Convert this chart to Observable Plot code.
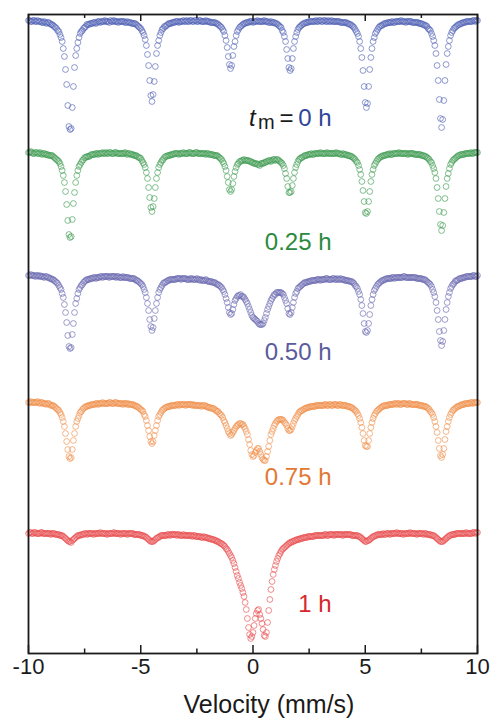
<!DOCTYPE html>
<html><head><meta charset="utf-8">
<script src="https://cdn.jsdelivr.net/npm/d3@7"></script>
<script src="https://cdn.jsdelivr.net/npm/@observablehq/plot@0.6"></script>
<style>
html,body{margin:0;padding:0;background:#fff;}
#chart{width:493px;height:728px;}
</style></head><body><div id="chart"></div>
<script>
// Velocity channels (mm/s)
const velocity = [
-10,-9.95,-9.9,-9.85,-9.8,-9.75,-9.7,-9.65,-9.6,-9.55,-9.5,-9.45,-9.4,-9.35,-9.3,-9.25,-9.2,-9.15,-9.1,-9.05,
-9,-8.95,-8.9,-8.85,-8.8,-8.75,-8.7,-8.65,-8.6,-8.55,-8.5,-8.45,-8.4,-8.35,-8.3,-8.25,-8.2,-8.15,-8.1,-8.05,
-8,-7.95,-7.9,-7.85,-7.8,-7.75,-7.7,-7.65,-7.6,-7.55,-7.5,-7.45,-7.4,-7.35,-7.3,-7.25,-7.2,-7.15,-7.1,-7.05,
-7,-6.95,-6.9,-6.85,-6.8,-6.75,-6.7,-6.65,-6.6,-6.55,-6.5,-6.45,-6.4,-6.35,-6.3,-6.25,-6.2,-6.15,-6.1,-6.05,
-6,-5.95,-5.9,-5.85,-5.8,-5.75,-5.7,-5.65,-5.6,-5.55,-5.5,-5.45,-5.4,-5.35,-5.3,-5.25,-5.2,-5.15,-5.1,-5.05,
-5,-4.95,-4.9,-4.85,-4.8,-4.75,-4.7,-4.65,-4.6,-4.55,-4.5,-4.45,-4.4,-4.35,-4.3,-4.25,-4.2,-4.15,-4.1,-4.05,
-4,-3.95,-3.9,-3.85,-3.8,-3.75,-3.7,-3.65,-3.6,-3.55,-3.5,-3.45,-3.4,-3.35,-3.3,-3.25,-3.2,-3.15,-3.1,-3.05,
-3,-2.95,-2.9,-2.85,-2.8,-2.75,-2.7,-2.65,-2.6,-2.55,-2.5,-2.45,-2.4,-2.35,-2.3,-2.25,-2.2,-2.15,-2.1,-2.05,
-2,-1.95,-1.9,-1.85,-1.8,-1.75,-1.7,-1.65,-1.6,-1.55,-1.5,-1.45,-1.4,-1.35,-1.3,-1.25,-1.2,-1.15,-1.1,-1.05,
-1,-0.95,-0.9,-0.85,-0.8,-0.75,-0.7,-0.65,-0.6,-0.55,-0.5,-0.45,-0.4,-0.35,-0.3,-0.25,-0.2,-0.15,-0.1,-0.05,
0,0.05,0.1,0.15,0.2,0.25,0.3,0.35,0.4,0.45,0.5,0.55,0.6,0.65,0.7,0.75,0.8,0.85,0.9,0.95,
1,1.05,1.1,1.15,1.2,1.25,1.3,1.35,1.4,1.45,1.5,1.55,1.6,1.65,1.7,1.75,1.8,1.85,1.9,1.95,
2,2.05,2.1,2.15,2.2,2.25,2.3,2.35,2.4,2.45,2.5,2.55,2.6,2.65,2.7,2.75,2.8,2.85,2.9,2.95,
3,3.05,3.1,3.15,3.2,3.25,3.3,3.35,3.4,3.45,3.5,3.55,3.6,3.65,3.7,3.75,3.8,3.85,3.9,3.95,
4,4.05,4.1,4.15,4.2,4.25,4.3,4.35,4.4,4.45,4.5,4.55,4.6,4.65,4.7,4.75,4.8,4.85,4.9,4.95,
5,5.05,5.1,5.15,5.2,5.25,5.3,5.35,5.4,5.45,5.5,5.55,5.6,5.65,5.7,5.75,5.8,5.85,5.9,5.95,
6,6.05,6.1,6.15,6.2,6.25,6.3,6.35,6.4,6.45,6.5,6.55,6.6,6.65,6.7,6.75,6.8,6.85,6.9,6.95,
7,7.05,7.1,7.15,7.2,7.25,7.3,7.35,7.4,7.45,7.5,7.55,7.6,7.65,7.7,7.75,7.8,7.85,7.9,7.95,
8,8.05,8.1,8.15,8.2,8.25,8.3,8.35,8.4,8.45,8.5,8.55,8.6,8.65,8.7,8.75,8.8,8.85,8.9,8.95,
9,9.05,9.1,9.15,9.2,9.25,9.3,9.35,9.4,9.45,9.5,9.55,9.6,9.65,9.7,9.75,9.8,9.85,9.9,9.95,
10];

// Relative resonant absorption (per mille) for each milling time
const abs0h = [
1,1,2,2,1,1,2,2,1,2,2,2,3,3,2,3,4,3,3,4,
5,5,6,7,8,9,11,12,15,18,22,29,37,50,65,86,107,110,109,88,
67,48,36,29,23,18,14,12,11,9,8,7,5,5,5,4,4,4,3,3,
4,3,2,2,3,2,2,2,1,2,2,2,3,1,2,2,1,2,2,2,
3,2,2,2,2,2,3,3,2,3,3,3,4,4,4,4,5,6,7,8,
9,11,13,16,20,26,35,46,61,76,82,75,62,47,34,26,21,16,13,10,
9,7,7,6,5,4,4,4,3,3,3,2,2,2,3,2,2,2,1,2,
2,1,2,2,1,1,2,2,1,1,2,2,1,1,2,2,2,2,1,2,
2,2,3,3,3,3,3,4,4,5,6,7,8,10,12,16,21,28,37,45,
49,46,36,27,22,16,12,10,8,7,6,5,4,4,3,3,3,2,2,2,
3,2,2,2,1,2,2,2,2,2,1,2,2,2,3,3,2,3,3,3,
4,4,5,6,7,8,11,13,17,22,30,39,48,51,49,39,29,22,17,13,
10,8,7,6,5,4,4,3,3,3,2,2,2,2,2,2,1,2,2,1,
1,2,2,1,1,2,2,1,2,2,1,2,2,2,2,2,2,2,3,3,
3,3,3,3,4,4,5,5,6,7,8,10,12,14,17,22,29,38,51,67,
83,88,84,67,50,38,29,22,18,14,12,10,8,7,6,6,5,4,4,4,
3,3,3,3,2,3,3,2,2,2,2,2,1,2,2,2,3,2,2,2,
2,2,3,3,3,3,3,3,4,4,4,5,5,6,6,7,9,10,11,14,
17,21,26,34,46,61,80,99,108,100,81,61,45,34,27,21,16,13,11,9,
8,7,6,5,5,4,4,3,3,3,2,2,2,2,2,2,1,1,2,1,
1];

const abs025h = [
1,1,0,1,2,2,1,1,2,2,1,2,3,2,2,3,3,3,4,4,
4,4,5,6,7,8,9,10,12,15,19,24,31,40,53,69,83,86,85,68,
52,41,31,24,19,15,13,11,9,8,6,6,5,5,5,4,3,3,3,3,
2,2,3,2,2,2,1,2,2,1,2,2,1,1,2,2,2,1,1,2,
2,2,2,2,2,2,1,2,3,2,2,3,3,3,4,4,4,5,6,6,
7,9,11,13,16,21,27,36,46,56,60,55,47,36,27,21,16,13,11,9,
8,6,5,5,4,4,4,3,3,3,2,2,2,2,3,2,2,2,1,2,
2,2,2,1,1,2,2,2,2,1,1,2,2,2,2,2,2,2,3,2,
2,3,3,3,3,4,4,4,4,5,6,7,8,10,12,15,19,25,31,38,
40,38,32,25,20,16,13,12,10,10,9,9,8,9,9,9,9,10,10,11,
11,12,12,12,13,13,14,12,12,12,11,11,10,10,9,9,10,9,8,8,
9,8,8,9,10,11,12,14,17,22,27,35,41,41,40,34,27,21,16,13,
10,8,7,6,6,5,4,4,4,3,3,3,2,3,3,2,2,2,2,2,
1,2,2,2,2,2,1,2,2,2,2,2,2,2,1,2,2,2,3,3,
2,3,3,3,4,4,4,5,5,6,7,8,10,11,14,18,23,30,39,50,
61,62,60,50,40,30,23,18,14,12,10,8,7,6,5,5,4,4,4,3,
3,3,2,3,3,2,2,2,2,2,1,2,2,2,2,2,2,2,3,2,
2,2,2,2,3,3,3,3,3,3,4,4,4,5,5,6,7,8,10,11,
14,17,21,27,36,47,60,73,79,74,61,47,35,27,22,17,13,11,9,8,
7,6,5,4,4,3,3,3,3,2,2,2,2,2,1,2,2,1,1,1,
1];

const abs050h = [
2,2,1,2,2,2,3,2,2,3,2,3,3,3,4,3,3,4,4,5,
5,6,6,7,8,9,10,12,14,16,20,24,31,39,49,62,73,75,74,61,
50,39,30,25,20,16,14,12,11,9,8,7,6,6,6,5,5,5,4,4,
5,4,4,4,3,3,4,3,3,3,3,3,4,3,3,3,3,3,4,3,
3,4,4,4,3,4,4,4,4,4,5,5,5,5,5,6,7,7,8,9,
10,11,13,16,19,24,30,37,46,53,57,54,45,37,30,24,19,16,14,12,
10,9,9,8,7,7,6,6,6,6,6,6,5,5,5,5,6,5,5,5,
5,6,6,6,5,6,5,6,6,6,5,6,6,7,6,7,7,7,6,7,
8,8,8,8,9,9,9,10,11,11,12,13,14,16,18,21,25,29,34,39,
41,40,36,31,27,25,23,22,22,21,23,23,24,26,28,30,33,36,39,42,
44,45,46,47,48,50,51,51,51,50,47,44,40,36,33,30,27,25,23,21,
21,19,19,19,19,19,20,21,24,27,30,35,40,41,39,34,29,24,20,18,
15,14,13,12,11,10,9,9,9,8,8,8,7,7,7,7,7,6,6,6,
7,6,6,6,6,5,5,6,6,6,6,5,5,6,6,5,6,6,5,6,
6,6,7,7,7,7,8,8,8,9,10,12,13,15,18,21,26,32,40,50,
58,59,57,50,41,32,26,21,17,15,13,11,10,9,8,7,7,6,6,5,
5,5,5,5,4,4,5,4,4,4,4,4,4,4,3,3,4,4,4,4,
4,4,4,4,4,4,5,5,5,5,5,6,6,6,7,8,9,10,11,13,
16,19,23,29,37,46,58,67,72,68,57,46,36,29,23,19,15,13,11,10,
8,7,7,6,5,5,5,4,4,4,3,3,3,3,3,3,2,2,3,3,
2];

const abs075h = [
2,2,1,2,2,2,2,2,1,2,3,2,2,3,3,3,4,3,3,4,
5,5,5,6,7,8,9,10,12,14,17,21,26,33,41,49,56,58,57,49,
40,33,26,21,18,15,12,11,9,8,7,6,6,5,5,5,4,4,4,4,
3,3,4,3,3,3,2,3,3,3,3,3,2,2,3,3,3,2,2,3,
3,3,3,3,4,3,3,3,4,3,4,4,4,4,5,5,6,6,7,8,
9,10,11,14,16,20,25,30,36,41,43,41,35,30,25,20,16,14,12,10,
9,8,7,7,6,6,6,5,5,5,5,5,4,4,5,4,4,4,4,4,
5,4,4,4,4,4,5,4,5,5,5,5,5,5,6,5,5,5,6,6,
7,7,7,8,8,8,9,10,11,11,13,14,15,17,20,22,25,28,31,33,
35,34,32,30,28,26,25,24,23,23,24,24,26,28,31,34,39,44,50,54,
56,55,52,50,48,48,51,54,57,59,60,60,56,51,46,40,34,31,28,25,
23,21,20,19,19,19,19,20,22,23,25,28,30,30,29,26,23,20,18,16,
14,12,11,10,10,9,8,8,7,7,7,6,6,6,6,6,5,5,5,5,
5,5,5,5,4,4,5,5,4,4,5,5,4,4,4,5,5,4,4,5,
5,5,5,5,6,6,6,7,7,8,9,10,11,13,15,18,22,27,33,40,
45,46,46,40,33,27,22,18,15,13,11,10,9,8,7,6,6,5,5,5,
5,4,4,4,4,4,3,3,4,3,3,4,4,3,3,3,3,4,4,3,
3,4,4,4,4,4,4,4,5,5,5,5,6,6,6,7,8,9,11,12,
14,17,21,26,32,40,48,55,57,54,48,39,31,26,21,17,14,12,10,9,
8,7,6,6,5,5,4,4,4,3,3,3,3,3,2,2,3,2,2,2,
2];

const abs1h = [
1,0,0,1,1,0,0,1,1,1,1,0,0,1,1,1,1,1,1,1,
2,1,1,1,2,2,2,2,3,3,3,4,5,6,7,8,9,9,10,8,
7,6,5,4,3,3,3,2,2,2,1,1,2,1,1,1,1,1,2,1,
1,1,1,1,0,1,1,1,1,1,2,1,1,1,1,1,0,1,1,1,
1,1,2,1,1,1,1,1,2,1,1,1,1,1,2,2,2,2,2,2,
3,3,3,4,4,5,6,7,8,9,9,9,8,7,6,5,5,4,3,3,
3,3,3,3,2,2,3,2,2,2,2,2,3,2,2,3,3,3,2,3,
3,3,3,3,3,3,4,3,3,4,4,4,4,4,5,5,4,5,5,5,
6,6,6,7,7,7,8,8,9,9,10,11,11,12,13,14,16,17,19,21,
23,25,28,31,35,39,43,46,50,53,56,60,64,70,77,86,95,102,106,104,
100,93,86,81,78,77,82,86,91,97,103,104,100,90,78,67,57,49,42,37,
33,29,26,23,21,19,17,16,15,14,13,12,11,10,10,9,9,8,8,7,
7,7,6,6,6,5,5,5,5,4,4,4,4,4,4,3,3,3,3,3,
3,3,3,3,2,2,3,3,2,2,2,2,3,2,2,2,2,2,2,2,
3,2,2,2,2,2,2,2,3,3,3,3,3,3,4,4,5,6,7,8,
9,9,8,8,7,6,5,4,4,3,3,2,2,2,2,2,1,2,2,1,
1,1,2,1,1,1,1,1,0,1,1,1,1,1,2,1,1,1,1,1,
0,1,1,1,1,1,2,1,1,1,1,1,2,1,1,2,2,2,2,3,
3,3,4,5,6,7,8,9,9,9,8,7,6,5,4,3,3,2,2,2,
2,1,1,1,1,1,1,1,1,1,0,1,1,1,1,1,0,0,1,0,
0];

const millingTimes = ["0 h", "0.25 h", "0.50 h", "0.75 h", "1 h"];
const xTicks = [-10, -5, 0, 5, 10];
const xMinorTicks = [-7.5, -2.5, 2.5, 7.5];

// ---- presentation (not data) ----
const series = [abs0h, abs025h, abs050h, abs075h, abs1h];
const dotColors = ["#4d5fb4", "#3d9b50", "#6866ae", "#f08d48", "#e84a4c"];
const labelColors = ["#2f4597", "#2b8a3d", "#5b5a9c", "#e27833", "#d6282c"];
const layout = {
  stackOffset: [63.4, 50.2, 38.0, 25.3, 12.1],
  labelY: [53.55, 41.1, 30.15, 17.6, 4.95],
  labelX: 3.5,
  yMax: 63.9
};

const rows = [];
series.forEach((vals, i) => {
  vals.forEach((a, j) => rows.push({v: velocity[j], y: layout.stackOffset[i] - a / 10, s: i}));
});
const labels = millingTimes.map((t, i) => ({text: t, y: layout.labelY[i], color: labelColors[i]}));

const font = "'Liberation Sans', Arial, Helvetica, sans-serif";
const ink = "#1a1a1a";

const chart = Plot.plot({
  width: 493, height: 728,
  marginTop: 14, marginRight: 16, marginBottom: 75, marginLeft: 28,
  x: {domain: [-10, 10]},
  y: {domain: [0, layout.yMax], axis: null},
  style: {fontFamily: font, background: "white", overflow: "visible"},
  marks: [
    Plot.dot(rows, {x: "v", y: "y", r: 2.9, fill: "none", stroke: d => dotColors[d.s], strokeWidth: 0.75, strokeOpacity: 0.85}),
    Plot.ruleX(xTicks, {y1: 0, y2: 0.8, stroke: ink, strokeWidth: 1.5}),
    Plot.ruleX(xMinorTicks, {y1: 0, y2: 0.45, stroke: ink, strokeWidth: 1.5}),
    Plot.ruleX(xTicks, {y1: layout.yMax, y2: layout.yMax - 0.7, stroke: ink, strokeWidth: 1.5}),
    Plot.ruleX(xMinorTicks, {y1: layout.yMax, y2: layout.yMax - 0.4, stroke: ink, strokeWidth: 1.5}),
    Plot.frame({stroke: ink, strokeWidth: 1.8}),
    Plot.axisX(xTicks, {anchor: "bottom", tickSize: 0, tickPadding: 5, fontSize: 22, label: null,
      tickFormat: d => String(d), fill: ink}),
    Plot.text(["Velocity (mm/s)"], {frameAnchor: "bottom", dy: 59, dx: 16, fontSize: 25, fill: ink}),
    Plot.text(labels, {x: layout.labelX, y: "y", text: "text", fill: d => d.color, textAnchor: "end", fontSize: 24}),
    Plot.text(["="], {x: layout.labelX, y: layout.labelY[0], textAnchor: "end", dx: -38, fontSize: 24, fill: ink}),
    Plot.text(["m"], {x: layout.labelX, y: layout.labelY[0], textAnchor: "end", dx: -57, dy: 5, fontSize: 20, fill: ink}),
    Plot.text(["t"], {x: layout.labelX, y: layout.labelY[0], textAnchor: "end", dx: -76, fontSize: 24, fontStyle: "italic", fill: ink})
  ]
});
document.getElementById("chart").appendChild(chart);
</script>
</body></html>
